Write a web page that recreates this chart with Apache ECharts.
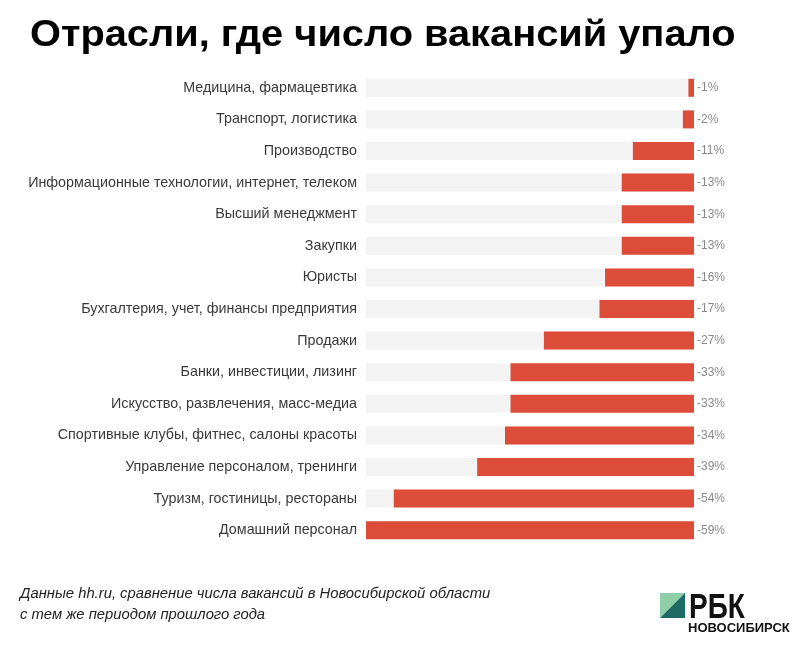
<!DOCTYPE html>
<html><head><meta charset="utf-8">
<script src="https://cdn.jsdelivr.net/npm/echarts@6/dist/echarts.min.js"></script>
<style>html,body{margin:0;padding:0;background:#fff}#c{width:811px;height:655px}</style>
</head><body><div id="c"></div>
<script>
const categories = [
  "Медицина, фармацевтика",
  "Транспорт, логистика",
  "Производство",
  "Информационные технологии, интернет, телеком",
  "Высший менеджмент",
  "Закупки",
  "Юристы",
  "Бухгалтерия, учет, финансы предприятия",
  "Продажи",
  "Банки, инвестиции, лизинг",
  "Искусство, развлечения, масс-медиа",
  "Спортивные клубы, фитнес, салоны красоты",
  "Управление персоналом, тренинги",
  "Туризм, гостиницы, рестораны",
  "Домашний персонал"
];
const declinePct = [1, 2, 11, 13, 13, 13, 16, 17, 27, 33, 33, 34, 39, 54, 59];

const chart = echarts.init(document.getElementById('c'), null, {renderer: 'canvas'});
chart.setOption({
  animation: false,
  backgroundColor: '#fff',
  grid: {left: 366, right: 117, top: 72, bottom: 109, containLabel: false},
  xAxis: {type: 'value', min: 0, max: 59, inverse: true, show: false},
  yAxis: {
    type: 'category', data: categories, inverse: true,
    axisLine: {show: false}, axisTick: {show: false},
    axisLabel: {color: '#3a3a3a', fontSize: 14.3, fontFamily: 'Liberation Sans', margin: 9}
  },
  series: [{
    type: 'bar', data: declinePct, barWidth: 18,
    itemStyle: {color: '#dd4b39'},
    showBackground: true,
    backgroundStyle: {color: '#f3f3f3'},
    label: {show: true, position: 'right', distance: 3, formatter: p => '-' + p.value + '%',
      color: '#8a8a8a', fontSize: 12, fontFamily: 'Liberation Sans'}
  }],
  graphic: [
    {type: 'text', x: 30, y: 18, scaleX: 1.105, originX: 0,
      style: {text: 'Отрасли, где число вакансий упало', font: 'bold 36px "Liberation Sans"', fill: '#000'}},
    {type: 'text', left: 20, top: 583, style: {text: 'Данные hh.ru, сравнение числа вакансий в Новосибирской области\nс тем же периодом прошлого года',
      font: 'italic 14.8px "Liberation Sans"', fill: '#222', lineHeight: 21}},
    {type: 'polygon', shape: {points: [[660,593],[685,593],[660,618]]}, style: {fill: '#8fcea6'}},
    {type: 'polygon', shape: {points: [[685,593],[685,618],[660,618]]}, style: {fill: '#1d6b64'}},
    {type: 'text', x: 689, y: 591, scaleX: 0.8, originX: 0,
      style: {text: 'РБК', font: 'bold 35px "Liberation Sans"', fill: '#111'}},
    {type: 'text', left: 688, top: 622, style: {text: 'НОВОСИБИРСК', font: 'bold 13px "Liberation Sans"', fill: '#111'}}
  ]
});
</script></body></html>
